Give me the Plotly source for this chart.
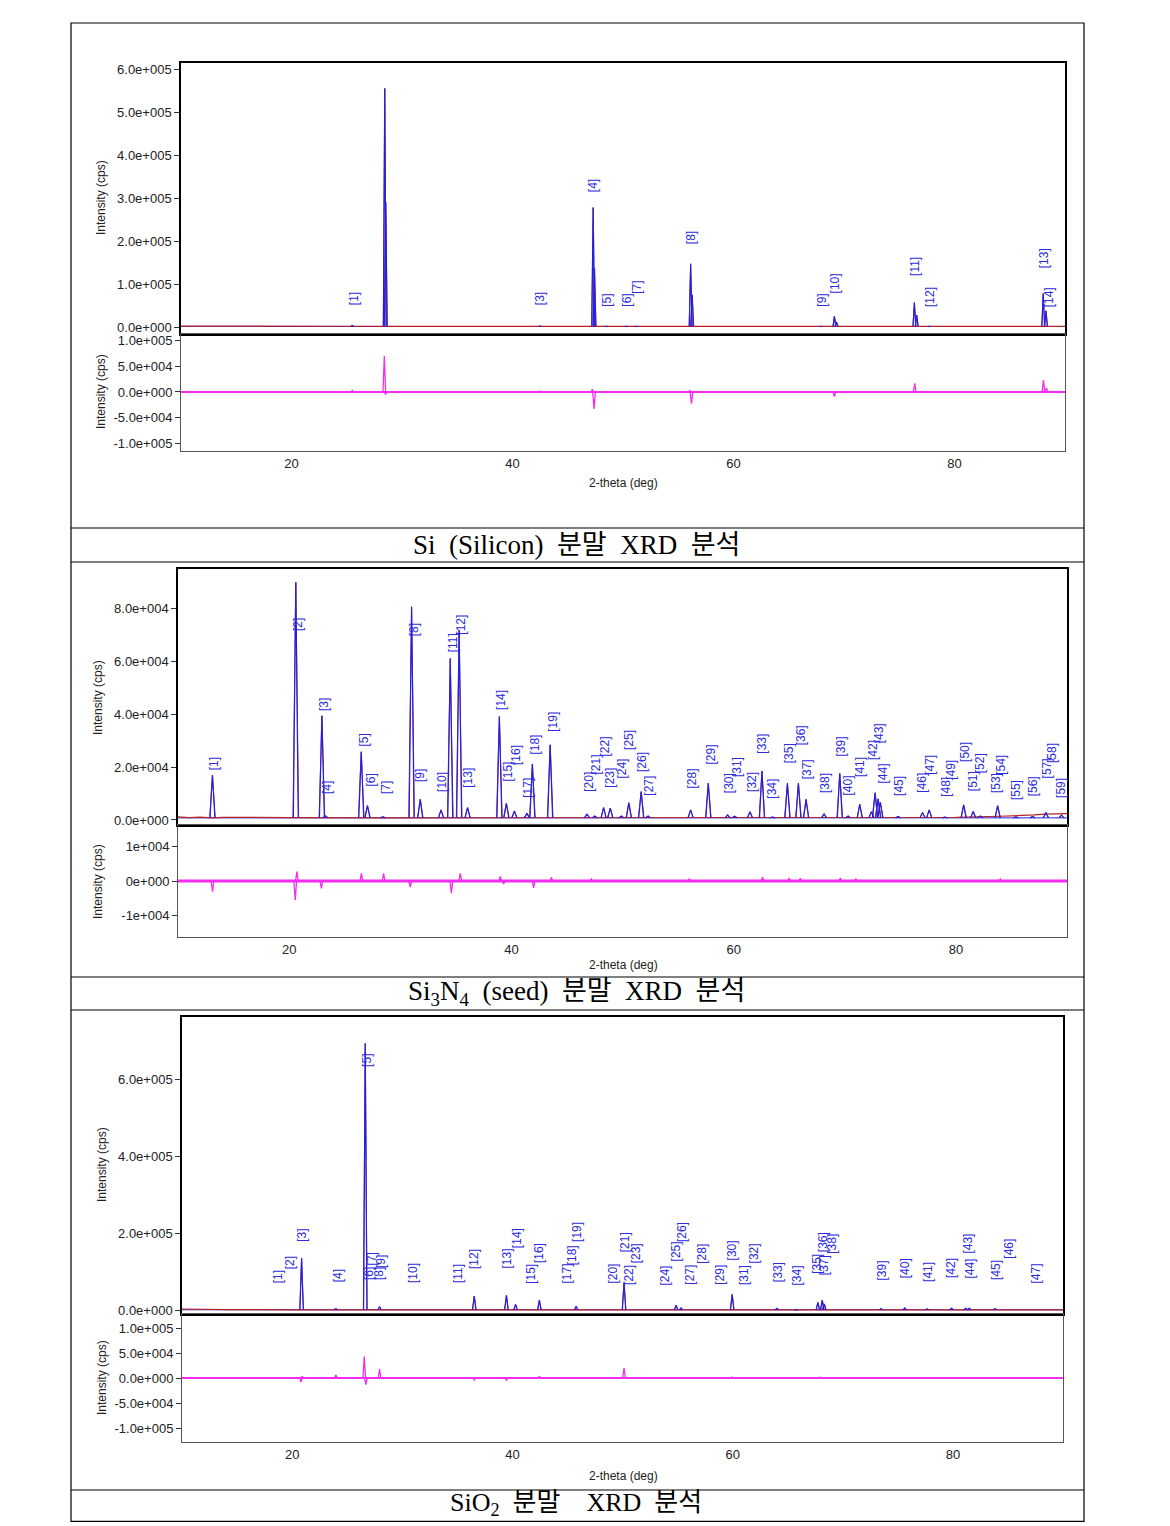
import plotly.graph_objects as go

W, H = 1170, 1522  # figure height (page is 1526 tall; bottom border drawn at the last pixel row)

# ================= DATA =================
# --- Si (Silicon) ---
si_peak_2theta = [25.5, 28.44, 28.53, 42.5, 47.30, 47.42, 48.5, 50.3, 51.2, 56.12, 56.26, 67.9, 69.13, 69.32, 76.37, 76.58, 77.7, 88.03, 88.28]
si_peak_int = [4000, 555000, 290000, 2500, 278000, 137000, 1200, 1500, 1000, 147000, 75000, 1200, 25000, 12000, 57000, 28000, 1500, 78000, 38000]
si_res_2theta = [25.5, 28.40, 28.52, 42.5, 47.22, 47.38, 56.05, 56.20, 69.13, 76.40, 88.05, 88.32]
si_res_int = [3000, 70000, -5000, 2000, 5000, -33000, 3000, -23000, -9000, 17000, 23000, 8000]
si_label_text = ["[1]", "[3]", "[4]", "[5]", "[6]", "[7]", "[8]", "[9]", "[10]", "[11]", "[12]", "[13]", "[14]"]
si_label_2theta = [25.66, 42.49, 47.3, 48.53, 50.33, 51.24, 56.15, 67.98, 69.2, 76.43, 77.78, 88.1, 88.58]
si_label_int = [65000, 65000, 328000, 63000, 63000, 93000, 209000, 63000, 102000, 140000, 70000, 160000, 70000]
si_obs_bg_2theta = [10, 14, 18, 22, 25, 30, 40, 50, 60, 70, 80, 90]
si_obs_bg_int = [2500, 2800, 2600, 2200, 2000, 1800, 1600, 1500, 1500, 1500, 1500, 1500]

# --- Si3N4 (seed) ---
si3n4_peak_2theta = [13.10, 20.60, 22.95, 23.27, 26.49, 27.05, 28.44, 31.02, 31.80, 33.67, 34.50, 35.30, 36.06, 38.92, 39.55, 40.27, 41.40, 41.89, 43.49, 46.80, 47.50, 48.30, 48.90, 49.90, 50.57, 51.68, 52.30, 56.13, 57.72, 59.46, 60.09, 61.47, 62.55, 63.50, 64.84, 65.83, 66.52, 68.14, 69.55, 70.30, 71.35, 72.40, 72.73, 73.00, 73.20, 74.80, 77.00, 77.60, 79.00, 80.70, 81.56, 82.20, 83.76, 85.40, 86.90, 88.10, 89.50]
si3n4_peak_int = [17000, 89900, 39400, 1600, 25800, 5400, 1200, 80600, 7800, 3800, 61100, 71800, 4700, 39100, 6300, 3400, 2500, 21200, 28400, 2200, 1500, 4700, 4500, 1500, 6500, 10700, 1500, 3800, 13900, 1900, 1400, 3100, 18500, 1100, 13900, 13900, 7800, 2300, 17600, 1500, 5900, 3100, 10300, 8000, 6700, 1300, 2800, 3800, 1100, 5700, 3200, 1500, 5400, 1200, 1300, 2800, 1800]
si3n4_res_2theta = [13.1, 20.55, 20.7, 22.9, 26.5, 28.5, 30.9, 34.6, 35.4, 39.0, 39.3, 42.0, 43.6, 47.2, 56.0, 62.6, 65.0, 66.0, 69.6, 71.0, 84.0]
si3n4_res_int = [-3100, -5500, 2700, -2100, 2200, 2200, -1800, -3500, 2200, 1300, -900, -2000, 1000, 600, 600, 1100, 900, 800, 900, 600, 600]
si3n4_label_2theta = [13.27, 20.78, 23.15, 23.4, 26.73, 27.41, 28.65, 31.23, 31.8, 33.76, 34.75, 35.5, 36.15, 39.07, 39.7, 40.42, 41.5, 42.1, 43.67, 46.91, 47.57, 48.41, 48.92, 49.97, 50.57, 51.77, 52.37, 56.28, 57.93, 59.58, 60.33, 61.59, 62.59, 63.49, 64.98, 66.04, 66.64, 68.2, 69.64, 70.33, 71.38, 72.55, 73.09, 73.45, 74.89, 77.0, 77.66, 79.04, 79.55, 80.84, 81.5, 82.16, 83.6, 84.05, 85.41, 86.91, 88.2, 88.71, 89.52]
si3n4_label_int = [21200, 74000, 43500, 12400, 30400, 15100, 12200, 72100, 16700, 14400, 66800, 74000, 15800, 45400, 18300, 24600, 12200, 28400, 37200, 14500, 20800, 27700, 15800, 19500, 30200, 22000, 12900, 15800, 24600, 13900, 20100, 14500, 29000, 12000, 25200, 31900, 19300, 13900, 27700, 13200, 20100, 26500, 32800, 17600, 12900, 13900, 20800, 12600, 18900, 25800, 14500, 21400, 13900, 20800, 11300, 12600, 19500, 25200, 12000]
si3n4_obs_bg_2theta = [10, 11, 12, 13, 14, 16, 18, 20, 30, 50, 70, 80, 84, 86, 87, 88, 89, 90]
si3n4_obs_bg_int = [1200, 900, 1100, 800, 1000, 900, 1000, 900, 800, 800, 900, 1000, 1400, 1600, 1900, 2200, 2300, 2400]

# --- SiO2 ---
sio2_peak_2theta = [20.86, 23.97, 26.64, 27.94, 36.54, 39.46, 40.29, 42.45, 45.79, 50.14, 54.87, 55.32, 59.96, 64.03, 65.79, 67.74, 68.14, 68.32, 73.47, 75.64, 77.67, 79.88, 81.17, 81.49, 83.83]
sio2_peak_int = [135000, 4000, 695000, 9000, 37000, 39000, 15000, 26000, 10000, 72000, 13000, 6000, 41000, 5000, 2000, 20000, 26000, 16000, 4000, 6000, 3000, 5000, 5000, 5000, 4000]
sio2_res_2theta = [20.80, 20.92, 23.97, 26.55, 26.70, 27.94, 36.54, 39.46, 42.45, 50.14, 59.96, 67.9]
sio2_res_int = [-8000, 3000, 6000, 43000, -13000, 18000, -4000, -5000, 3000, 20000, 2000, 2000]
sio2_label_2theta = [18.66, 19.88, 20.9, 24.12, 26.79, 27.03, 27.25, 27.94, 28.09, 31.03, 35.12, 36.57, 39.52, 40.36, 41.73, 42.48, 44.97, 45.43, 45.88, 49.15, 50.18, 50.57, 51.18, 53.9, 54.82, 55.43, 56.18, 57.25, 58.9, 59.97, 61.03, 61.94, 64.06, 65.88, 67.7, 68.15, 68.3, 69.06, 73.6, 75.73, 77.75, 79.88, 81.39, 81.57, 83.9, 85.12, 87.55]
sio2_label_int = [86800, 124400, 193800, 89500, 652000, 95700, 134800, 95700, 126000, 95700, 95700, 132200, 134800, 188600, 95700, 147900, 95700, 143400, 204200, 95700, 178100, 91300, 149400, 91300, 152000, 204200, 91300, 147900, 91300, 156500, 91300, 147900, 100000, 91300, 121800, 178100, 117400, 174000, 104300, 108700, 100000, 108700, 174000, 108700, 104300, 160900, 95700]
sio2_obs_bg_2theta = [10, 11, 12, 13, 14, 20, 40, 60, 90]
sio2_obs_bg_int = [3000, 2500, 3200, 2600, 1500, 1000, 1000, 1000, 1000]

# tick labels
si_main_tickvals = [0, 100000, 200000, 300000, 400000, 500000, 600000]
si_main_ticktext = ["0.0e+000", "1.0e+005", "2.0e+005", "3.0e+005", "4.0e+005", "5.0e+005", "6.0e+005"]
res_big_tickvals = [-100000, -50000, 0, 50000, 100000]
res_big_ticktext = ["-1.0e+005", "-5.0e+004", "0.0e+000", "5.0e+004", "1.0e+005"]
si3n4_main_tickvals = [0, 20000, 40000, 60000, 80000]
si3n4_main_ticktext = ["0.0e+000", "2.0e+004", "4.0e+004", "6.0e+004", "8.0e+004"]
si3n4_res_tickvals = [-10000, 0, 10000]
si3n4_res_ticktext = ["-1e+004", "0e+000", "1e+004"]
sio2_main_tickvals = [0, 200000, 400000, 600000]
sio2_main_ticktext = ["0.0e+000", "2.0e+005", "4.0e+005", "6.0e+005"]
x_tickvals = [20, 40, 60, 80]
x_ticktext = ["20", "40", "60", "80"]

captions = ["Si&nbsp;&nbsp;(Silicon)&nbsp;&nbsp;분말&nbsp;&nbsp;XRD&nbsp;&nbsp;분석",
            "Si<sub>3</sub>N<sub>4</sub>&nbsp;&nbsp;(seed)&nbsp;&nbsp;분말&nbsp;&nbsp;XRD&nbsp;&nbsp;분석",
            "SiO<sub>2</sub>&nbsp;&nbsp;분말&nbsp;&nbsp;&nbsp;&nbsp;XRD&nbsp;&nbsp;분석"]

# ================= STYLE / LAYOUT =================
BLUE = "#2121e6"
RED = "#b82222"
MAG = "#f22cf0"
LBL = "#2b2be0"
TXT = "#222222"
SANS = "Liberation Sans, Arial, sans-serif"


def px_x(x):
    return x / W


def px_y(y):
    return 1 - min(y, H - 0.6) / H


def segments(centers, heights, base, hw):
    xs, ys = [], []
    for c, h in zip(centers, heights):
        xs += [c - hw, c, c + hw, None]
        ys += [base, h, base, None]
    return xs, ys


panels = [
    dict(xd=(181, 1065), main=(63, 334), resbox=(334, 451),
         rmain=[-16000, 614000], rres=[-115000, 113000],
         mtv=si_main_tickvals, mtt=si_main_ticktext, rtv=res_big_tickvals, rtt=res_big_ticktext,
         pk=(si_peak_2theta, si_peak_int), base=1500, hw=0.12,
         resdata=(si_res_2theta, si_res_int), rhw=0.12, rbw=1.8,
         lab=(si_label_text, si_label_2theta, si_label_int),
         bg=(si_obs_bg_2theta, si_obs_bg_int),
         ytx=101, ymy=198, yry=392, xtitle_y=483, cap_y=545, cap_size=27, sepw=2),
    dict(xd=(178, 1067), main=(569, 825), resbox=(825, 937),
         rmain=[-1900, 94900], rres=[-16200, 16200],
         mtv=si3n4_main_tickvals, mtt=si3n4_main_ticktext, rtv=si3n4_res_tickvals, rtt=si3n4_res_ticktext,
         pk=(si3n4_peak_2theta, si3n4_peak_int), base=800, hw=0.22,
         resdata=(si3n4_res_2theta, si3n4_res_int), rhw=0.12, rbw=3,
         lab=(["[%d]" % (i + 1) for i in range(len(si3n4_label_2theta))], si3n4_label_2theta, si3n4_label_int),
         bg=(si3n4_obs_bg_2theta, si3n4_obs_bg_int),
         ytx=98, ymy=697, yry=881, xtitle_y=965, cap_y=993, cap_size=27, sepw=1.5),
    dict(xd=(182, 1063), main=(1017, 1314), resbox=(1314, 1442),
         rmain=[-10000, 764000], rres=[-128000, 128000],
         mtv=sio2_main_tickvals, mtt=sio2_main_ticktext, rtv=res_big_tickvals, rtt=res_big_ticktext,
         pk=(sio2_peak_2theta, sio2_peak_int), base=1000, hw=0.15,
         resdata=(sio2_res_2theta, sio2_res_int), rhw=0.12, rbw=1.8,
         lab=(["[%d]" % (i + 1) for i in range(len(sio2_label_2theta))], sio2_label_2theta, sio2_label_int),
         bg=(sio2_obs_bg_2theta, sio2_obs_bg_int),
         ytx=102, ymy=1165, yry=1378, xtitle_y=1476, cap_y=1504, cap_size=26, sepw=1.5),
]

fig = go.Figure()
annotations = []
layout_axes = {}

for p, P in enumerate(panels):
    nm = 2 * p + 1
    nr = 2 * p + 2
    xm, ym = "x%d" % nm, "y%d" % nm
    xr, yr = "x%d" % nr, "y%d" % nr
    fig.add_trace(go.Scatter(x=[10, 90], y=[P["base"], P["base"]], mode="lines",
                             line=dict(color=BLUE, width=1), xaxis=xm, yaxis=ym, hoverinfo="skip"))
    fig.add_trace(go.Scatter(x=P["bg"][0], y=P["bg"][1], mode="lines",
                             line=dict(color=RED, width=1.2), xaxis=xm, yaxis=ym, hoverinfo="skip"))
    xs, ys = segments(P["pk"][0], P["pk"][1], P["base"], P["hw"] * 1.15)
    fig.add_trace(go.Scatter(x=xs, y=ys, mode="lines", line=dict(color=RED, width=1),
                             xaxis=xm, yaxis=ym, hoverinfo="skip", connectgaps=False))
    xs, ys = segments(P["pk"][0], P["pk"][1], P["base"], P["hw"])
    fig.add_trace(go.Scatter(x=xs, y=ys, mode="lines", line=dict(color=BLUE, width=1.2),
                             xaxis=xm, yaxis=ym, hoverinfo="skip", connectgaps=False))
    fig.add_trace(go.Scatter(x=[10, 90], y=[0, 0], mode="lines", line=dict(color=MAG, width=P["rbw"]),
                             xaxis=xr, yaxis=yr, hoverinfo="skip"))
    rx, ry = segments(P["resdata"][0], P["resdata"][1], 0, P["rhw"])
    fig.add_trace(go.Scatter(x=rx, y=ry, mode="lines", line=dict(color=MAG, width=1.3),
                             xaxis=xr, yaxis=yr, hoverinfo="skip", connectgaps=False))

    xd = [px_x(P["xd"][0]), px_x(P["xd"][1])]
    common_y = dict(ticks="outside", ticklen=5, tickcolor="#333", showgrid=False, zeroline=False,
                    tickfont=dict(family=SANS, size=13, color=TXT), mirror=True, showline=True,
                    automargin=False)
    layout_axes["xaxis%d" % nm] = dict(domain=xd, range=[10, 90], anchor=ym, showticklabels=False,
                                       ticks="", showgrid=False, zeroline=False, showline=True,
                                       mirror=True, linecolor="black", linewidth=P["sepw"], automargin=False)
    layout_axes["yaxis%d" % nm] = dict(domain=[px_y(P["main"][1]), px_y(P["main"][0])], range=P["rmain"],
                                       anchor=xm, tickvals=P["mtv"], ticktext=P["mtt"],
                                       linecolor="black", linewidth=1.5, **common_y)
    layout_axes["xaxis%d" % nr] = dict(domain=xd, range=[10, 90], anchor=yr, tickvals=x_tickvals,
                                       ticktext=x_ticktext, ticks="", showgrid=False, zeroline=False,
                                       showline=True, mirror=True, linecolor="#555", linewidth=1,
                                       tickfont=dict(family=SANS, size=13, color=TXT), automargin=False)
    layout_axes["yaxis%d" % nr] = dict(domain=[px_y(P["resbox"][1]), px_y(P["resbox"][0])], range=P["rres"],
                                       anchor=xr, tickvals=P["rtv"], ticktext=P["rtt"],
                                       linecolor="#555", linewidth=1, **common_y)

    for t, lx, ly in zip(*P["lab"]):
        annotations.append(dict(x=lx, y=ly, xref=xm, yref=ym, text=t, showarrow=False, textangle=-90,
                                font=dict(family=SANS, size=12, color=LBL), xanchor="center", yanchor="middle"))
    for yy in (P["ymy"], P["yry"]):
        annotations.append(dict(x=px_x(P["ytx"]), y=px_y(yy), xref="paper", yref="paper",
                                text="Intensity (cps)", showarrow=False, textangle=-90,
                                xanchor="center", yanchor="middle",
                                font=dict(family=SANS, size=12, color=TXT)))
    annotations.append(dict(x=px_x(623), y=px_y(P["xtitle_y"]), xref="paper", yref="paper",
                            text="2-theta (deg)", showarrow=False, xanchor="center", yanchor="middle",
                            font=dict(family=SANS, size=12, color=TXT)))
    annotations.append(dict(x=px_x(576), y=px_y(P["cap_y"]), xref="paper", yref="paper",
                            text=captions[p], showarrow=False, xanchor="center", yanchor="middle",
                            font=dict(family="Liberation Serif, Noto Sans CJK KR, serif", size=P["cap_size"],
                                      color="black")))

shapes = [dict(type="rect", xref="paper", yref="paper", x0=px_x(71), x1=px_x(1084), y0=px_y(1524), y1=px_y(23),
               line=dict(color="black", width=1.2))]
for yl in (528, 562, 977, 1010, 1490):
    shapes.append(dict(type="line", xref="paper", yref="paper", x0=px_x(71), x1=px_x(1084),
                       y0=px_y(yl), y1=px_y(yl), line=dict(color="black", width=1.2)))

fig.update_layout(width=W, height=H, autosize=False, margin=dict(l=0, r=0, t=0, b=0, autoexpand=False),
                  paper_bgcolor="white", plot_bgcolor="white", showlegend=False,
                  annotations=annotations, shapes=shapes, **layout_axes)

fig.write_html("out.html", config=dict(displayModeBar=False))
